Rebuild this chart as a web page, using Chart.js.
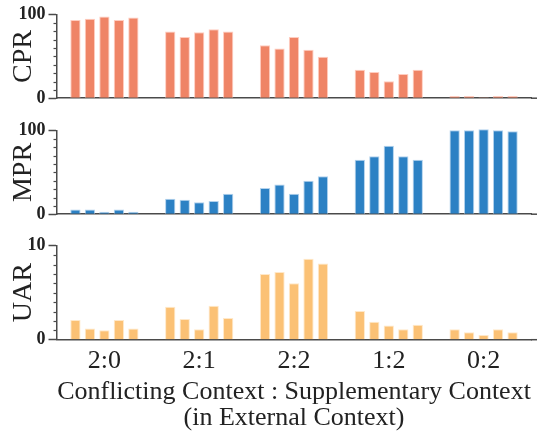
<!DOCTYPE html>
<html lang="en">
<head>
<meta charset="UTF-8">
<title>CPR / MPR / UAR by context ratio</title>
<script src="https://cdn.jsdelivr.net/npm/chart.js"></script>
<style>
  body { margin: 0; background: #fff; overflow: hidden; }
  canvas { position: absolute; left: 0; }
</style>
</head>
<body>
<canvas id="cprChart" width="537" height="112" style="top:0"></canvas>
<canvas id="mprChart" width="537" height="112" style="top:116px"></canvas>
<canvas id="uarChart" width="537" height="202" style="top:231px"></canvas>

<script>
// x groups: conflicting : supplementary
const groups = ['2:0', '2:1', '2:2', '1:2', '0:2'];

// one row per group, five bars each
const cprValues = [
    [93.7, 95.1, 97.9, 93.7, 96.5],
    [79.9, 73.2, 78.9, 82.7, 79.9],
    [63.4, 59.5, 73.2, 58.1, 49.6],
    [34.2, 31.3, 20.4, 28.9, 34.2],
    [2.5, 2.5, 1.0, 2.5, 2.5]
];
const mprValues = [
    [5.7, 5.7, 2.9, 5.7, 2.9],
    [18.6, 17.2, 14.3, 15.8, 24.4],
    [31.5, 35.5, 24.4, 40.1, 45.5],
    [65.2, 69.5, 82.1, 69.5, 65.2],
    [100.4, 100.4, 101.8, 100.4, 99.3]
];
const uarValues = [
    [2.1, 1.2, 1.0, 2.1, 1.2],
    [3.5, 2.2, 1.1, 3.6, 2.3],
    [7.0, 7.2, 6.0, 8.6, 8.1],
    [3.05, 1.9, 1.5, 1.1, 1.6],
    [1.1, 0.8, 0.5, 1.1, 0.8]
];

const axisColor = '#4a4a4a';
const textColor = '#222';
Chart.defaults.font.family = "'Liberation Serif', 'DejaVu Serif', serif";
Chart.defaults.color = textColor;

// short ticks between the labelled ones, and the bottom spine run out to the edge
const minorTicks = {
    id: 'minorTicks',
    afterDraw(chart) {
        const y = chart.scales.y;
        const ctx = chart.ctx;
        ctx.save();
        ctx.strokeStyle = axisColor;
        ctx.lineWidth = 1.2;
        y.ticks.forEach(t => {
            if (t.value === y.min || t.value === y.max) return;
            const py = Math.round(y.getPixelForValue(t.value)) + 0.5;
            ctx.beginPath();
            ctx.moveTo(y.right - 3.5, py);
            ctx.lineTo(y.right, py);
            ctx.stroke();
        });
        const area = chart.chartArea;
        ctx.lineWidth = 1.5;
        ctx.beginPath();
        ctx.moveTo(area.right, area.bottom);
        ctx.lineTo(chart.width, area.bottom);
        ctx.stroke();
        ctx.restore();
    }
};

function makePanel(id, values, color, edge, label, max, bottom) {
    const datasets = [0, 1, 2, 3, 4].map(b => ({
        data: groups.map((g, gi) => values[gi][b]),
        backgroundColor: color,
        borderColor: edge,
        borderWidth: 1,
        categoryPercentage: 0.764,
        barPercentage: 0.71,
        clip: false
    }));

    new Chart(document.getElementById(id), {
        type: 'bar',
        data: { labels: groups, datasets: datasets },
        plugins: [minorTicks],
        options: {
            responsive: false,
            animation: false,
            layout: { padding: { top: 14.7, right: 6, bottom: bottom ? 0 : (id === 'cprChart' ? 3.3 : 4.3), left: 0 } },
            plugins: { legend: { display: false }, tooltip: { enabled: false } },
            scales: {
                x: {
                    grid: { display: false },
                    border: { display: true, color: axisColor, width: 1.5 },
                    ticks: {
                        display: bottom,
                        padding: 0,
                        color: textColor,
                        font: { size: 26, lineHeight: 1 }
                    },
                    title: {
                        display: bottom,
                        text: ['Conflicting Context : Supplementary Context', '(in External Context)'],
                        color: textColor,
                        font: { size: 26, lineHeight: 1 },
                        padding: { top: 8, bottom: 2 }
                    },
                    afterFit(scale) { scale.height = bottom ? 93.3 : 0; }
                },
                y: {
                    min: 0,
                    max: max,
                    ticks: {
                        stepSize: max / 10,
                        autoSkip: false,
                        padding: 3,
                        color: textColor,
                        font: { size: 18, weight: 'bold' },
                        callback: v => (v === 0 || v === max) ? v : ''
                    },
                    grid: {
                        drawOnChartArea: false,
                        tickLength: 8.5,
                        tickWidth: 1.5,
                        tickColor: c => (c.tick && (c.tick.value === 0 || c.tick.value === max)) ? axisColor : 'rgba(0,0,0,0)'
                    },
                    border: { display: true, color: axisColor, width: 1.5 },
                    title: {
                        display: true,
                        text: label,
                        color: textColor,
                        font: { size: 28, lineHeight: 1 },
                        padding: { top: 9.5, bottom: 0 }
                    },
                    afterFit(scale) { scale.width = 57; }
                }
            }
        }
    });
}

makePanel('cprChart', cprValues, '#EF8466', 'rgba(255,200,185,0.9)', 'CPR', 100, false);
makePanel('mprChart', mprValues, '#2C81C4', 'rgba(170,205,235,0.9)', 'MPR', 100, false);
makePanel('uarChart', uarValues, '#FBC175', 'rgba(255,230,195,0.9)', 'UAR', 10, true);
</script>
</body>
</html>
